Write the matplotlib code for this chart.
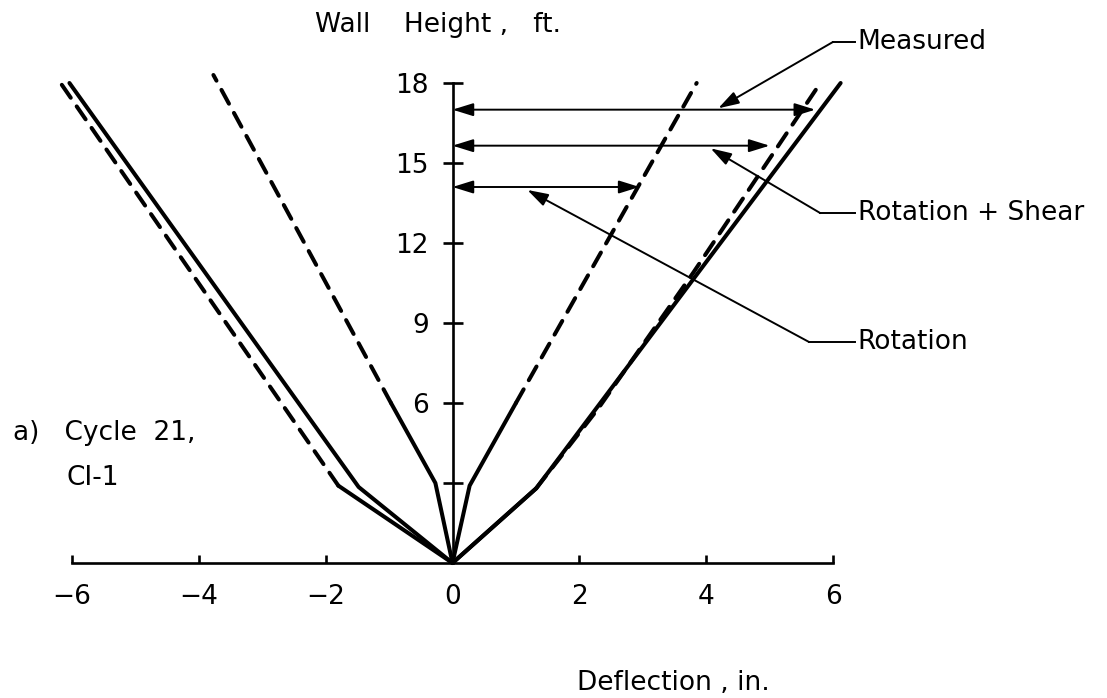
import matplotlib
matplotlib.use("Agg")
import matplotlib.pyplot as plt

# ---------------- data ----------------
# Measured (solid)
meas_right_x = [0, 1.32, 6.12]
meas_right_y = [0, 2.8, 18]
meas_left_x = [0, -1.48, -6.04]
meas_left_y = [0, 2.85, 18]
# Rotation + Shear (dashed)
rs_right_x = [0, 1.32, 2.3, 3.8, 5.8]
rs_right_y = [0, 2.8, 5.8, 10.9, 18]
rs_left_x = [0, -1.8, -6.18]
rs_left_y = [0, 2.9, 18]
# Rotation (dashed)
rot_right_x = [0, 0.27, 1.0, 3.85]
rot_right_y = [0, 2.9, 6.0, 18]
rot_left_x = [0, -0.27, -0.97, -3.77]
rot_left_y = [0, 3.0, 6.0, 18.3]

# top-of-wall deflection arrows
arrow_heights = [17.0, 15.65, 14.1]
arrow_reach = [5.72, 5.0, 2.95]

# callouts
callout_labels = ["Measured", "Rotation + Shear", "Rotation"]
callout_y = [19.54, 13.12, 8.29]
callout_elbow_x = [6.0, 5.8, 5.62]
callout_tip_x = [4.19, 4.07, 1.18]
callout_tip_y = [17.05, 15.55, 13.99]

x_ticks = [-6, -4, -2, 0, 2, 4, 6]
x_tick_labels = ["\u22126", "\u22124", "\u22122", "0", "2", "4", "6"]
y_ticks = [3, 6, 9, 12, 15, 18]
y_tick_labels = ["", "6", "9", "12", "15", "18"]

# ---------------- figure ----------------
W, H = 1107, 698
fig = plt.figure(figsize=(W / 100, H / 100), dpi=100)
ax = fig.add_axes([0, 0, 1, 1])
ax.set_facecolor("white")
fig.patch.set_facecolor("white")

ax.set_xlim(-7.135, 10.320)
ax.set_ylim(-5.0625, 21.1125)

LW = 2.9
DASH = (0, (3.9, 2.6))
FS = 19


def draw_split(x, y, n_solid):
    ax.plot(x[:n_solid], y[:n_solid], color="black", lw=LW,
            solid_capstyle="round", solid_joinstyle="round")
    ax.plot(x[n_solid - 1:], y[n_solid - 1:], color="black", lw=LW,
            linestyle=DASH, dash_capstyle="round")


# Measured - solid
for xs, ys in [(meas_right_x, meas_right_y), (meas_left_x, meas_left_y)]:
    ax.plot(xs, ys, color="black", lw=LW, solid_capstyle="round",
            solid_joinstyle="round")
# Rotation + Shear - dashed (solid near the base)
draw_split(rs_right_x, rs_right_y, 2)
draw_split(rs_left_x, rs_left_y, 2)
# Rotation - dashed (solid near the base)
draw_split(rot_right_x, rot_right_y, 3)
draw_split(rot_left_x, rot_left_y, 3)

# horizontal deflection arrows
for h, r in zip(arrow_heights, arrow_reach):
    ax.annotate("", xy=(r, h), xytext=(0, h),
                arrowprops=dict(arrowstyle="<|-|>,head_length=0.9,head_width=0.28",
                                color="black", lw=1.4, shrinkA=0, shrinkB=0,
                                mutation_scale=14))

# callouts with leaders
label_x = 6.39
for lab, ly, ex, tx, ty in zip(callout_labels, callout_y, callout_elbow_x,
                               callout_tip_x, callout_tip_y):
    ax.plot([ex, label_x - 0.04], [ly, ly], color="black", lw=1.4)
    ax.annotate("", xy=(tx, ty), xytext=(ex, ly),
                arrowprops=dict(arrowstyle="-|>,head_length=0.9,head_width=0.28",
                                color="black", lw=1.4, shrinkA=0, shrinkB=0,
                                mutation_scale=14))
    ax.text(label_x, ly, lab, ha="left", va="center", fontsize=FS,
            color="black")

# axes as crossing spines
for s in ["top", "right"]:
    ax.spines[s].set_visible(False)
ax.spines["left"].set_position(("data", 0))
ax.spines["bottom"].set_position(("data", 0))
ax.spines["left"].set_bounds(0, 18)
ax.spines["bottom"].set_bounds(-6, 6)
ax.spines["left"].set_linewidth(1.9)
ax.spines["bottom"].set_linewidth(1.9)

ax.set_xticks(x_ticks)
ax.set_xticklabels(x_tick_labels)
ax.set_yticks(y_ticks)
ax.set_yticklabels(y_tick_labels)
ax.tick_params(axis="x", direction="in", length=6, width=1.9, pad=15,
               labelsize=FS)
ax.tick_params(axis="y", direction="inout", length=14, width=1.9, pad=10,
               labelsize=FS)


# titles and annotations (figure-fraction positions)
def fx(px):
    return px / W


def fy(py):
    return 1 - py / H


ax.text(fx(315), fy(25), "Wall    Height ,   ft.", transform=ax.transAxes,
        ha="left", va="center", fontsize=FS)
ax.text(fx(577), fy(683), "Deflection , in.", transform=ax.transAxes,
        ha="left", va="center", fontsize=FS)
ax.text(fx(13), fy(433), "a)   Cycle  21,", transform=ax.transAxes,
        ha="left", va="center", fontsize=FS)
ax.text(fx(66), fy(478), "CI-1", transform=ax.transAxes,
        ha="left", va="center", fontsize=FS)

fig.savefig("out.png", dpi=100, facecolor="white")
